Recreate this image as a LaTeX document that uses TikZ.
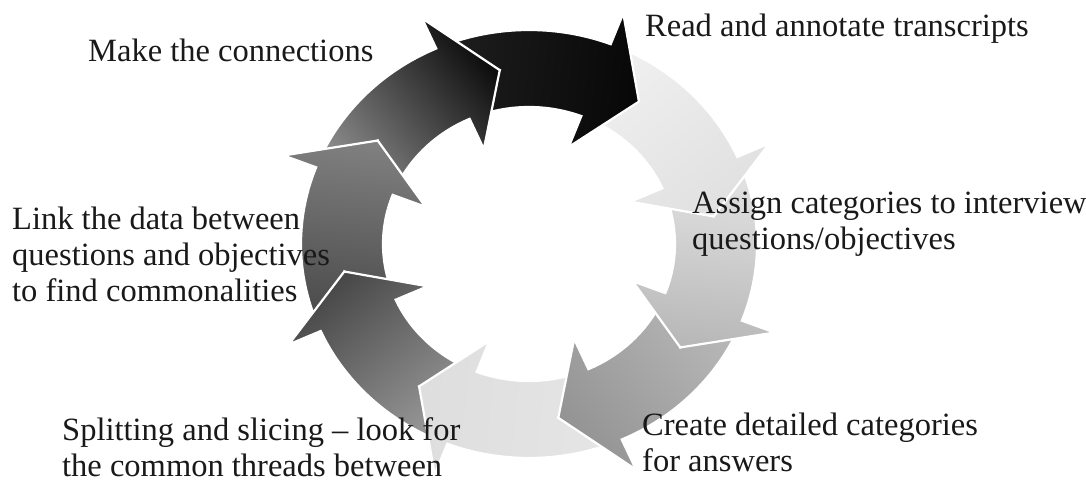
\documentclass[tikz,border=0pt]{standalone}
\usepackage{fontspec}
\setmainfont{Liberation Serif}
\newcommand\ringarrow[3]{%
  \pgfmathsetmacro\rA{#1+45}%
  \pgfmathsetmacro\rN{#1+30}%
  \pgfmathsetmacro\rT{#1-15}%
  \pgfmathsetmacro\rS{#1-165}%
  \shadedraw[arrowpiece, bottom color=#2, top color=#3, shading angle=\rS]
   ({529+228*cos(\rA)},{242+214*sin(\rA)}) arc[start angle=\rA, end angle=#1, x radius=228, y radius=214]
   -- ({529+263*cos(#1)},{242+247*sin(#1)})
   -- ({529+187*cos(\rT)},{242+176*sin(\rT)})
   -- ({529+111*cos(#1)},{242+104*sin(#1)})
   -- ({529+146*cos(#1)},{242+137*sin(#1)})
   arc[start angle=#1, end angle=\rA, x radius=146, y radius=137]
   -- ({529+187*cos(\rN)},{242+176*sin(\rN)})
   -- cycle;}
\begin{document}
\begin{tikzpicture}[x=1pt,y=1pt,
  arrowpiece/.style={draw=white, line width=2.2pt, line join=miter},
  steplabel/.style={anchor=base west, align=left, inner sep=0pt, text=black!90,
    font=\fontsize{32.5}{36}\selectfont}]
\fill[white] (0,0) rectangle (1086,486);
\useasboundingbox (0,0) rectangle (1086,486);
% ring of arrows (clockwise)
\ringarrow{159}{black!72}{black!50}   % left
\ringarrow{-156}{black!40}{black!72}  % bottom-left
\ringarrow{-111}{black!10}{black!13}  % bottom
\ringarrow{-66}{black!28}{black!42}   % bottom-right
\ringarrow{-21}{black!10}{black!28}   % right-lower
\ringarrow{24}{black!6}{black!12}     % right-upper
\ringarrow{69}{black!88}{black!97}    % top (black)
\ringarrow{114}{black!45}{black!95}   % top-left
\begin{scope}
  \clip (529,242) -- ({529+320*cos(166)},{242+320*sin(166)})
        -- ({529+320*cos(150)},{242+320*sin(150)})
        -- ({529+320*cos(136)},{242+320*sin(136)}) -- cycle;
  \ringarrow{159}{black!72}{black!50}
\end{scope}
% labels (multi-line nodes: base = baseline of last line)
\node[steplabel] (make) at (88,424) {Make the connections};
\node[steplabel] (read) at (645,449) {Read and annotate transcripts};
\node[steplabel] (assign) at (692,236) {Assign categories to interview\\questions/objectives};
\node[steplabel] (link) at (12,184) {Link the data between\\questions and objectives\\to find commonalities};
\node[steplabel] (create) at (642,14) {Create detailed categories\\for answers};
\node[steplabel] (split) at (62,9) {Splitting and slicing -- look for\\the common threads between};
\end{tikzpicture}
\end{document}
